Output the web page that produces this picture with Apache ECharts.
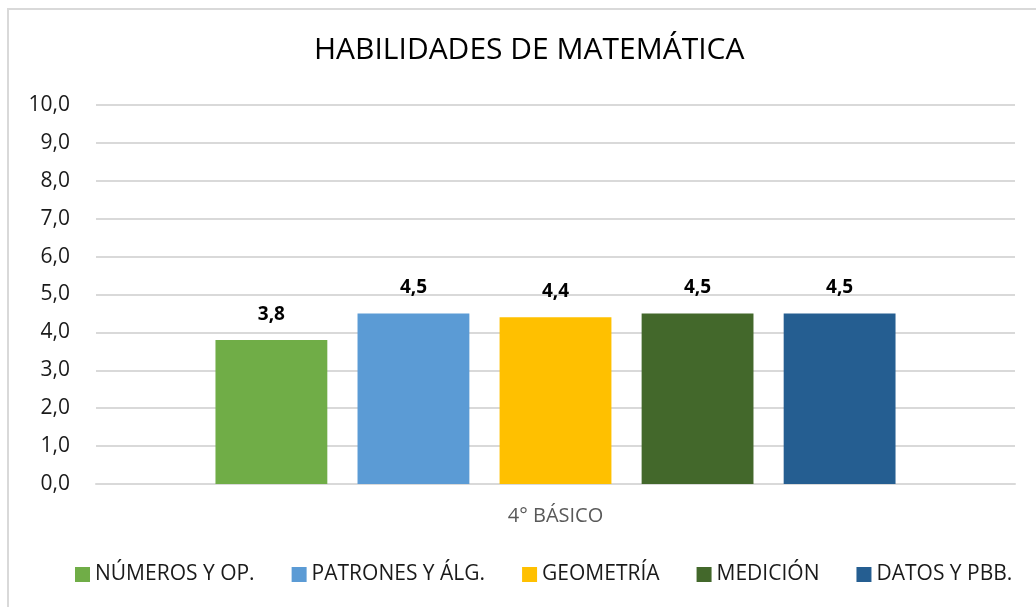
<!DOCTYPE html>
<html>
<head>
<meta charset="utf-8">
<script src="https://cdn.jsdelivr.net/npm/echarts@6/dist/echarts.min.js"></script>
<style>
  html, body { margin: 0; padding: 0; background: #fff; }
  #frame {
    position: absolute; left: 7px; top: 8px; width: 1040px; height: 610px;
    border: 2px solid #d9d9d9; box-sizing: border-box;
  }
  #chart { position: absolute; left: 0; top: 0; width: 1036px; height: 607px; }
</style>
</head>
<body>
<div id="frame"></div>
<div id="chart"></div>
<script>
const categories = ['4° BÁSICO']
const seriesNames = ['NÚMEROS Y OP.', 'PATRONES Y ÁLG.', 'GEOMETRÍA', 'MEDICIÓN', 'DATOS Y PBB.']
const seriesValues = [3.8, 4.5, 4.4, 4.5, 4.5]
const seriesColors = ['#70ad47', '#5b9bd5', '#ffc000', '#43682b', '#255e91']

const font = '"Open Sans", "Noto Sans", sans-serif'

const chart = echarts.init(document.getElementById('chart'))

const option = {
  animation: false,
  textStyle: { fontFamily: font },
  title: {
    text: 'HABILIDADES DE MATEMÁTICA',
    left: 309,
    top: 30,
    textStyle: { fontSize: 30, fontWeight: 'normal', color: '#000', fontFamily: font }
  },
  legend: {
    bottom: 17,
    left: 70,
    itemWidth: 15,
    itemHeight: 15,
    itemGap: 37,
    icon: 'rect',
    textStyle: { fontSize: 21, color: '#1a1a1a', fontFamily: font },
    data: seriesNames
  },
  grid: { left: 96, right: 21, top: 105, bottom: 123 },
  xAxis: {
    type: 'category',
    data: categories,
    axisLine: { lineStyle: { color: '#d9d9d9', width: 2 } },
    axisTick: { show: false },
    axisLabel: { fontSize: 20, color: '#595959', margin: 22, fontFamily: font }
  },
  yAxis: {
    type: 'value',
    min: 0,
    max: 10,
    interval: 1,
    axisLine: { show: false },
    axisTick: { show: false },
    splitLine: { lineStyle: { color: '#d9d9d9', width: 2 } },
    axisLabel: {
      fontSize: 21,
      color: '#1a1a1a',
      margin: 26,
      fontFamily: font,
      formatter: v => v.toFixed(1).replace('.', ',')
    }
  },
  series: seriesNames.map((name, i) => ({
    name: name,
    type: 'bar',
    data: [seriesValues[i]],
    barGap: '27%',
    barCategoryGap: '26%',
    itemStyle: { color: seriesColors[i] },
    label: {
      show: true,
      position: 'top',
      distance: 16,
      fontSize: 19,
      fontWeight: 'bold',
      color: '#000',
      fontFamily: font,
      formatter: p => p.value.toFixed(1).replace('.', ',')
    }
  }))
}

chart.setOption(option)
</script>
</body>
</html>
